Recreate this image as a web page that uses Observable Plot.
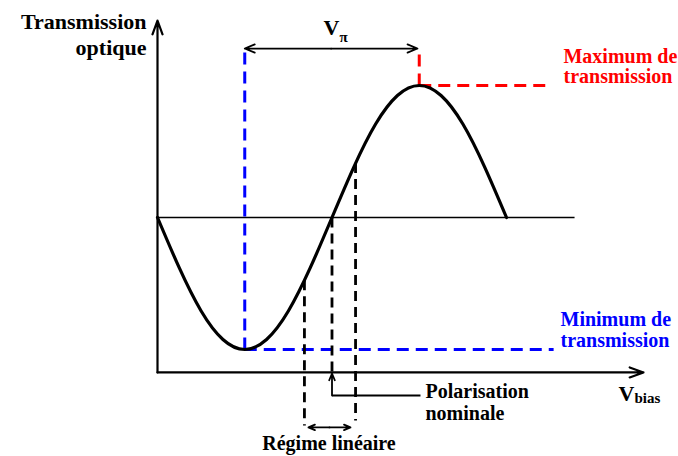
<!DOCTYPE html>
<html>
<head>
<meta charset="utf-8">
<script src="https://cdn.jsdelivr.net/npm/d3@7"></script>
<script src="https://cdn.jsdelivr.net/npm/@observablehq/plot@0.6"></script>
<style>
  html, body { margin: 0; padding: 0; background: #fff; }
  #chart svg { display: block; }
</style>
</head>
<body>
<div id="chart"></div>
<script>
// Transfer curve (V in units of Vπ, T normalised 0..1)
const vSamples = [0, 0.125, 0.25, 0.375, 0.5, 0.625, 0.75, 0.875, 1.0, 1.125, 1.25, 1.375, 1.5, 1.625, 1.75, 1.875, 2.0];
const tSamples = [0.5, 0.309, 0.146, 0.038, 0, 0.038, 0.146, 0.309, 0.5, 0.691, 0.854, 0.962, 1.0, 0.962, 0.854, 0.691, 0.5];

// Key voltages / transmissions
const vMin = 0.5, vNominal = 1.0, vMax = 1.5;
const vLinLo = 0.842, vLinHi = 1.135;
const tLinLo = 0.262, tLinHi = 0.706;
const tMin = 0, tMid = 0.5, tMax = 1;
const tAxis = -0.087, tAxisTop = 1.246, vAxisEnd = 2.785, vMidEnd = 2.39;
const tGuideTop = 1.133, vBlueEnd = 2.27, vRedEnd = 2.24;
const tVpi = 1.14, vVpiEnd = 1.49;
const tLinLoBottom = -0.288, tLinHiBottom = -0.269;
const tPol = -0.174, vPolEnd = 1.507;
const tRegime = -0.295, vRegLo = 0.865, vRegHi = 1.106;

// Labels
const labelTexts = ["Transmission", "optique", "Maximum de", "transmission", "Minimum de", "transmission", "Polarisation", "nominale", "Régime linéaire"];
const labelV = [-0.063, -0.063, 2.3266, 2.3266, 2.3095, 2.3095, 1.5358, 1.5358, 0.9828];
const labelT = [1.2159, 1.1174, 1.0871, 1.0076, 0.0909, 0.0076, -0.1856, -0.2689, -0.3788];
const labelColor = ["black", "black", "#ff0000", "#ff0000", "#0000ff", "#0000ff", "black", "black", "black"];
const labelAnchor = ["end", "end", "start", "start", "start", "start", "start", "start", "middle"];
const labelSize = [22, 22, 20, 20, 20, 20, 20, 20, 20];

const symText = ["V", "π", "V", "bias"];
const symV = [0.9513, 1.0430, 2.6418, 2.7335];
const symT = [1.1894, 1.1629, -0.1932, -0.2008];
const symSize = [22, 15, 22, 15];

const curveData = vSamples.map((v, i) => ({v, t: tSamples[i]}));
const labels = labelTexts.map((s, i) => ({s, v: labelV[i], t: labelT[i], c: labelColor[i], a: labelAnchor[i], z: labelSize[i]}))
  .concat(symText.map((s, i) => ({s, v: symV[i], t: symT[i], c: "black", a: "start", z: symSize[i]})));

const seg = (v1, t1, v2, t2) => ({v1, t1, v2, t2});
const blueDash = [seg(vMin, tMin, vMin, tGuideTop), seg(vMin, tMin, vBlueEnd, tMin)];
const redDash = [seg(vMax, tMax, vMax, tGuideTop), seg(vMax, tMax, vRedEnd, tMax)];
const blackDash = [seg(vLinLo, tLinLo, vLinLo, tLinLoBottom), seg(vLinHi, tLinHi, vLinHi, tLinHiBottom), seg(vNominal, tMid, vNominal, tAxis)];
const axisArrows = [seg(0, tAxis, 0, tAxisTop), seg(0, tAxis, vAxisEnd, tAxis)];
const vpiMid = (vMin + vVpiEnd) / 2, regMid = (vRegLo + vRegHi) / 2;
const smallArrows = [
  seg(vpiMid, tVpi, vMin, tVpi), seg(vpiMid, tVpi, vVpiEnd, tVpi),
  seg(regMid, tRegime, vRegLo, tRegime), seg(regMid, tRegime, vRegHi, tRegime),
  seg(vNominal, tPol, vNominal, tAxis - 0.004)
];
const midLine = [seg(0, tMid, vMidEnd, tMid)];
const polLine = [seg(vPolEnd, tPol, vNominal, tPol)];

const font = "'Liberation Serif', 'Times New Roman', serif";
const textGroups = d3.groups(labels, d => d.a + "|" + d.z);

const chart = Plot.plot({
  width: 678,
  height: 456,
  margin: 0,
  x: {domain: [-157 / 174.5, (678 - 157) / 174.5], range: [0, 678], axis: null},
  y: {domain: [(349 - 456) / 264, 349 / 264], range: [456, 0], axis: null},
  style: {fontFamily: font, background: "white"},
  marks: [
    Plot.link(midLine, {x1: "v1", y1: "t1", x2: "v2", y2: "t2", stroke: "black", strokeWidth: 1.6}),
    Plot.link(polLine, {x1: "v1", y1: "t1", x2: "v2", y2: "t2", stroke: "black", strokeWidth: 2}),
    Plot.arrow(axisArrows, {x1: "v1", y1: "t1", x2: "v2", y2: "t2", stroke: "black", strokeWidth: 2.2, headLength: 10, headAngle: 40}),
    Plot.link(blueDash, {x1: "v1", y1: "t1", x2: "v2", y2: "t2", stroke: "#0000ff", strokeWidth: 3, strokeDasharray: "12,7"}),
    Plot.link(redDash, {x1: "v1", y1: "t1", x2: "v2", y2: "t2", stroke: "#ff0000", strokeWidth: 3, strokeDasharray: "12,7"}),
    Plot.link(blackDash, {x1: "v1", y1: "t1", x2: "v2", y2: "t2", stroke: "black", strokeWidth: 2.8, strokeDasharray: "10,6"}),
    Plot.line(curveData, {x: "v", y: "t", curve: "natural", stroke: "black", strokeWidth: 3.2}),
    Plot.arrow(smallArrows, {x1: "v1", y1: "t1", x2: "v2", y2: "t2", stroke: "black", strokeWidth: 1.8, headLength: 9, headAngle: 45}),
    ...textGroups.map(([key, rows]) => Plot.text(rows, {
      x: "v", y: "t", text: "s", fill: "c",
      textAnchor: rows[0].a, lineAnchor: "bottom",
      fontSize: rows[0].z, fontWeight: "bold", fontFamily: font
    }))
  ]
});
document.getElementById("chart").appendChild(chart);
</script>
</body>
</html>
